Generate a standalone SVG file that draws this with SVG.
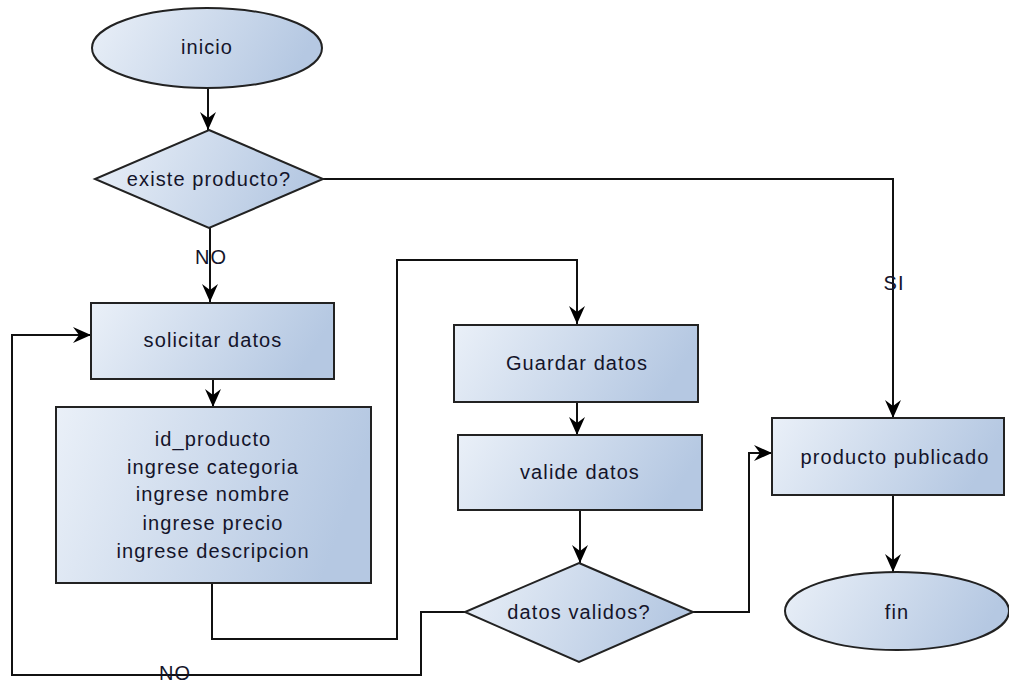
<svg xmlns="http://www.w3.org/2000/svg" width="1009" height="684" viewBox="0 0 1009 684">
<defs>
<linearGradient id="g" x1="0" y1="0" x2="1" y2="0.2">
<stop offset="0" stop-color="#eaf0f8"/>
<stop offset="1" stop-color="#b5c8e2"/>
</linearGradient>
<marker id="arr" viewBox="0 0 18 16" refX="18" refY="8" markerWidth="18" markerHeight="16" markerUnits="userSpaceOnUse" orient="auto">
<path d="M0,0 L18,8 L0,16 L6,8 z" fill="#000"/>
</marker>
<style>
.s{fill:url(#g);stroke:#222;stroke-width:2}
.t{font-family:"Liberation Sans",Arial,sans-serif;font-size:20px;letter-spacing:1.1px;fill:#14142a;text-anchor:middle}
.c{fill:none;stroke:#111;stroke-width:2}
.l{font-family:"Liberation Sans",Arial,sans-serif;font-size:20px;letter-spacing:1px;fill:#14142a;text-anchor:middle}
</style>
</defs>
<g id="connectors">
<path class="c" d="M208,88 V130" marker-end="url(#arr)"/>
<path class="c" d="M323,179 H893 V418" marker-end="url(#arr)"/>
<path class="c" d="M210,228 V302" marker-end="url(#arr)"/>
<path class="c" d="M213,379 V407" marker-end="url(#arr)"/>
<path class="c" d="M212,583 V639 H397 V260 H577 V324" marker-end="url(#arr)"/>
<path class="c" d="M577,402 V435" marker-end="url(#arr)"/>
<path class="c" d="M580,510 V563" marker-end="url(#arr)"/>
<path class="c" d="M465,612 H421 V675 H12 V335 H91" marker-end="url(#arr)"/>
<path class="c" d="M693,612 H749 V453 H772" marker-end="url(#arr)"/>
<path class="c" d="M893,495 V572" marker-end="url(#arr)"/>
<text class="l" x="211" y="264">NO</text>
<text class="l" x="894" y="290">SI</text>
<text class="l" x="175" y="680">NO</text>
</g>
<g id="inicio">
<ellipse class="s" cx="207" cy="48" rx="115" ry="40"/>
<text class="t" x="207" y="54">inicio</text>
</g>
<g id="existe">
<polygon class="s" points="209,130 323,179 209,228 95,179"/>
<text class="t" x="209" y="186">existe producto?</text>
</g>
<g id="solicitar">
<rect class="s" x="91" y="303" width="243" height="76"/>
<text class="t" x="213" y="347">solicitar datos</text>
</g>
<g id="ingrese">
<rect class="s" x="56" y="407" width="315" height="176"/>
<text class="t" x="213" y="446">id_producto</text>
<text class="t" x="213" y="474">ingrese categoria</text>
<text class="t" x="213" y="501">ingrese nombre</text>
<text class="t" x="213" y="530">ingrese precio</text>
<text class="t" x="213" y="558">ingrese descripcion</text>
</g>
<g id="guardar">
<rect class="s" x="454" y="325" width="244" height="77"/>
<text class="t" x="577" y="370">Guardar datos</text>
</g>
<g id="valide">
<rect class="s" x="458" y="435" width="244" height="75"/>
<text class="t" x="580" y="479">valide datos</text>
</g>
<g id="validos">
<polygon class="s" points="579,563 693,612 579,662 465,612"/>
<text class="t" x="579" y="619">datos validos?</text>
</g>
<g id="publicado">
<rect class="s" x="772" y="418" width="232" height="77"/>
<text class="t" x="895" y="464">producto publicado</text>
</g>
<g id="fin">
<ellipse class="s" cx="897" cy="611" rx="112" ry="39"/>
<text class="t" x="897" y="619">fin</text>
</g>
</svg>
